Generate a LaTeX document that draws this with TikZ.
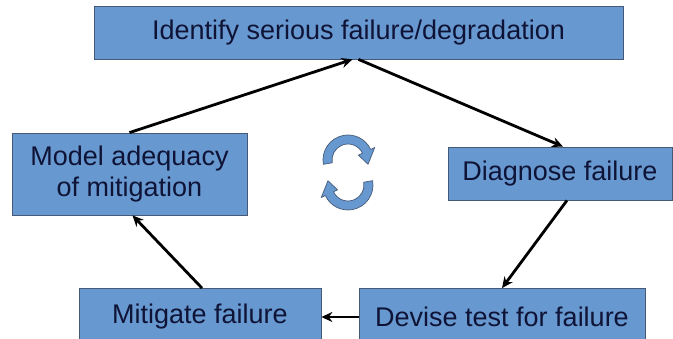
\documentclass[tikz,border=0pt]{standalone}
\usepackage{fontspec}
\setmainfont{Liberation Sans}
\usepackage{tikz}
\usetikzlibrary{arrows.meta, calc}
\definecolor{boxblue}{RGB}{103,152,207}
\definecolor{boxedge}{RGB}{70,90,120}
\definecolor{textnavy}{RGB}{15,20,55}

\begin{document}
\begin{tikzpicture}[x=1pt,y=1pt]
      \tikzset{stepbox/.style={draw=boxedge,
          line width=0.8pt,
          fill=boxblue,
          text=textnavy,
          align=center,
          inner sep=0pt,
          font=\fontsize{27}{31}\selectfont,
          minimum height=#1},
        stepbox/.default=53,
        flow/.style={line width=2.8pt,
          -{Stealth[length=11pt,width=10pt]}},
        cyclearrow/.style={fill=boxblue,
          draw=boxedge,
          line width=0.7pt,
          line join=round}
      }
      \useasboundingbox (0,0) rectangle (673,339);
      \node [stepbox,minimum width=529] (ident) at (358.5,306.5) {Identify serious failure/degradation};
      \node [stepbox=82,minimum width=235] (model) at (129.5,165) {Model adequacy\\of mitigation};
      \node [stepbox,minimum width=224] (diag) at (560,165.5) {Diagnose failure};
      \node [stepbox=57,minimum width=242] (mitig) at (200,22) {Mitigate failure};
      \node [stepbox=57,minimum width=286] (devise) at (502,22) {Devise test for failure};

      \draw [flow] (model.north) -- ([xshift=-6pt]ident.south);
      \draw [flow] (ident.south) -- ([xshift=3pt]diag.north);
      \draw [flow] ([xshift=7pt]diag.south) -- (devise.north);
      \draw [flow] (devise.west) -- (mitig.east);
      \draw [flow] ([xshift=2pt]mitig.north) -- ([xshift=3pt]model.south);

      % cycle symbol
      \foreach \rot/\cy in {0/179, 180/154}
        \draw [cyclearrow, shift={(348,\cy)}, rotate=\rot]
          (190:25) arc (190:25:25) -- (25:29.5) -- (-12:20.5) -- (25:11.5)
          -- (25:16) arc (25:190:16) -- cycle;
    \end{tikzpicture}
\end{document}
